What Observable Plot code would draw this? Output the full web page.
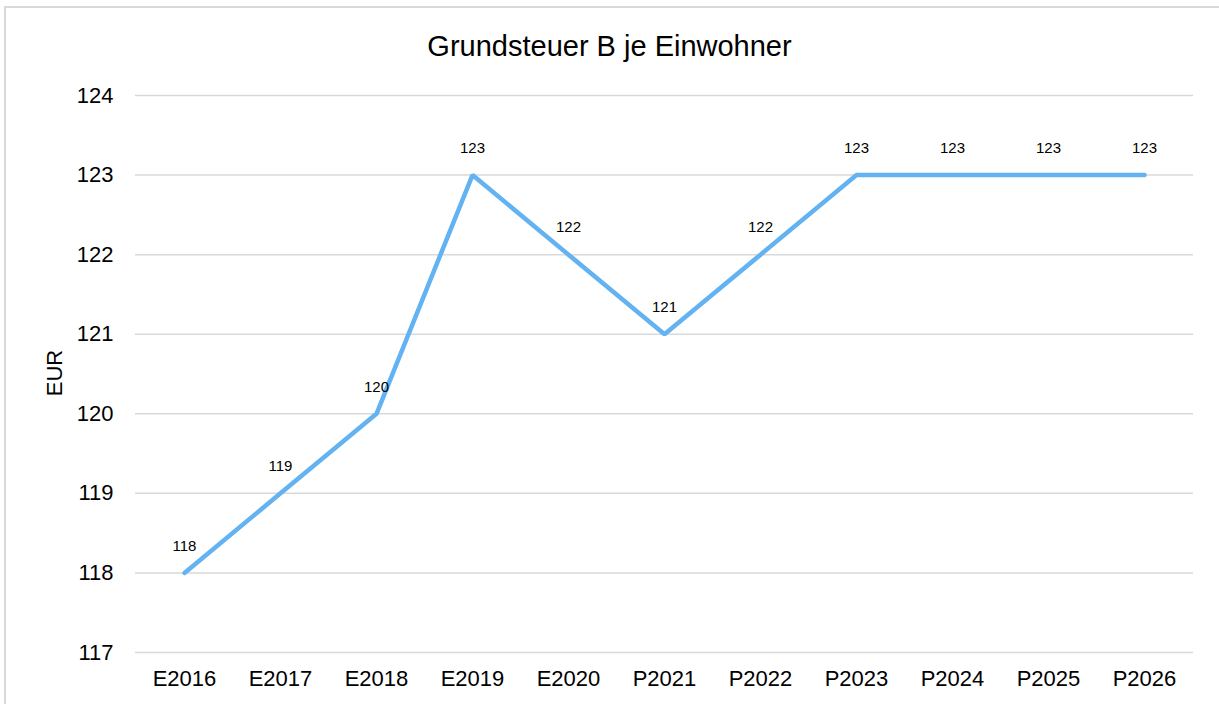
<!DOCTYPE html>
<html><head><meta charset="utf-8">
<script src="https://cdn.jsdelivr.net/npm/d3@7"></script>
<script src="https://cdn.jsdelivr.net/npm/@observablehq/plot@0.6"></script>
<style>
body{margin:0;background:#fff;font-family:"Liberation Sans",Arial,sans-serif;}
#wrap{position:relative;width:1219px;height:704px;overflow:hidden;}
#frame{position:absolute;left:4px;top:6px;width:1300px;height:800px;border:2px solid #d9d9d9;box-sizing:border-box;}
#title{position:absolute;left:0;top:0;width:1219px;height:80px;text-align:center;line-height:92px;font-size:29px;color:#000;}
#chart{position:absolute;left:0;top:80px;}
</style></head>
<body><div id="wrap"><div id="frame"></div><div id="title">Grundsteuer B je Einwohner</div><div id="chart"></div></div>
<script>
const categories = ["E2016","E2017","E2018","E2019","E2020","P2021","P2022","P2023","P2024","P2025","P2026"];
const values = [118,119,120,123,122,121,122,123,123,123,123];
const yTicks = [117,118,119,120,121,122,123,124];
const data = categories.map((c,i)=>({cat:c, v:values[i]}));
const chart = Plot.plot({
  width:1219, height:624,
  marginLeft:135, marginRight:26, marginTop:15, marginBottom:52,
  style:{fontFamily:"Liberation Sans, Arial, sans-serif", fontSize:"22px", color:"#000", background:"transparent"},
  x:{type:"point", domain:categories, padding:0.5, label:null},
  y:{domain:[117,124], ticks:yTicks, label:null},
  marks:[
    Plot.ruleY(yTicks,{stroke:"#d9d9d9", strokeWidth:1.5}),
    Plot.axisY({ticks:yTicks, tickFormat:"d", tickSize:0, tickPadding:22, fontSize:22, label:null}),
    Plot.axisX({tickSize:0, tickPadding:18, fontSize:22, label:null}),
    Plot.line(data,{x:"cat", y:"v", stroke:"#63b3f2", strokeWidth:4.5, strokeLinejoin:"miter"}),
    Plot.text(data,{x:"cat", y:"v", text:d=>String(d.v), dy:-27, fontSize:15, fill:"#000"})
  ]
});
document.getElementById("chart").appendChild(chart);
const svg = d3.select(chart);
svg.append("text").attr("transform","translate(62,293) rotate(-90)").attr("text-anchor","middle").attr("font-size",22).attr("fill","#000").text("EUR");
</script></body></html>
